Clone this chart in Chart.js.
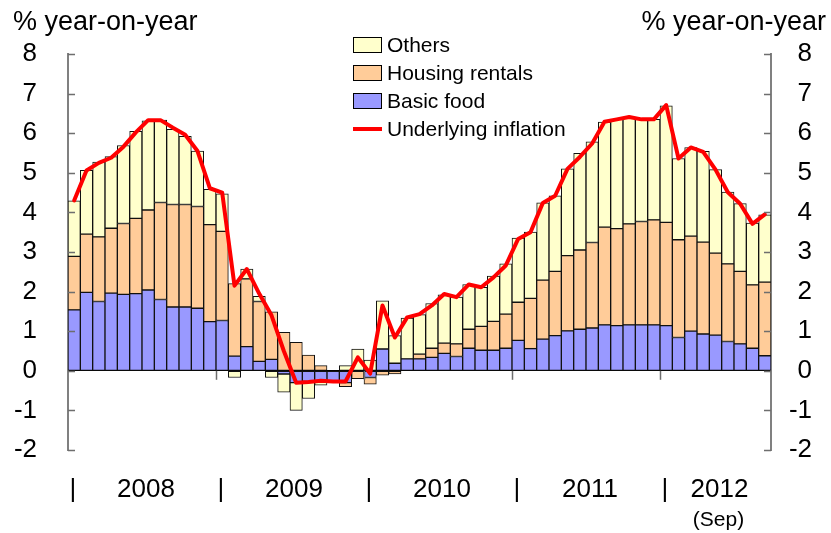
<!DOCTYPE html>
<html>
<head>
<meta charset="utf-8">
<script src="https://cdn.jsdelivr.net/npm/chart.js@4/dist/chart.umd.min.js"></script>
<style>
  html, body { margin: 0; padding: 0; background: #fff; }
  canvas { display: block; }
</style>
</head>
<body>
<canvas id="c" width="831" height="533"></canvas>
<script>
// ---- Data (monthly, Jan 2008 – Sep 2012) ----
const months = [
  '2008-01','2008-02','2008-03','2008-04','2008-05','2008-06','2008-07','2008-08','2008-09','2008-10','2008-11','2008-12',
  '2009-01','2009-02','2009-03','2009-04','2009-05','2009-06','2009-07','2009-08','2009-09','2009-10','2009-11','2009-12',
  '2010-01','2010-02','2010-03','2010-04','2010-05','2010-06','2010-07','2010-08','2010-09','2010-10','2010-11','2010-12',
  '2011-01','2011-02','2011-03','2011-04','2011-05','2011-06','2011-07','2011-08','2011-09','2011-10','2011-11','2011-12',
  '2012-01','2012-02','2012-03','2012-04','2012-05','2012-06','2012-07','2012-08','2012-09'
];
const basicFood = [
  1.54,1.98,1.75,1.96,1.93,1.95,2.04,1.80,1.61,1.61,1.58,1.24,
  1.27,0.37,0.61,0.24,0.29,-0.08,-0.30,-0.27,-0.25,-0.25,-0.30,0.00,
  -0.17,0.55,0.19,0.30,0.30,0.34,0.44,0.36,0.57,0.52,0.52,0.57,
  0.77,0.56,0.80,0.89,1.01,1.05,1.08,1.16,1.14,1.16,1.16,1.16,
  1.14,0.84,1.00,0.93,0.90,0.74,0.68,0.57,0.38
];
const housingRentals = [
  1.35,1.47,1.63,1.64,1.79,1.90,2.02,2.45,2.59,2.59,2.57,2.45,
  2.25,1.83,1.71,1.51,1.20,0.97,0.72,0.40,0.13,0.00,-0.10,-0.20,
  -0.17,-0.11,-0.08,0.00,0.12,0.23,0.26,0.32,0.48,0.60,0.73,0.86,
  0.96,1.27,1.49,1.62,1.90,2.00,2.16,2.47,2.45,2.55,2.61,2.65,
  2.61,2.47,2.40,2.32,2.07,1.96,1.83,1.60,1.86
];
const others = [
  1.40,1.61,1.89,1.81,1.97,2.20,2.25,2.08,1.90,1.72,1.40,0.89,
  0.95,-0.17,0.25,0.13,-0.17,-0.46,-0.70,-0.43,-0.11,-0.03,0.13,0.55,
  0.27,1.22,0.70,1.03,1.00,1.13,1.22,1.18,1.13,0.99,1.14,1.27,
  1.62,1.67,1.95,1.91,2.19,2.44,2.54,2.65,2.76,2.70,2.58,2.54,
  2.94,2.05,2.24,2.29,2.11,1.81,1.71,1.56,1.70
];
const underlyingInflation = [
  4.30,5.06,5.25,5.38,5.66,6.02,6.33,6.33,6.14,5.96,5.55,4.61,
  4.50,2.15,2.57,1.95,1.40,0.50,-0.30,-0.28,-0.25,-0.27,-0.27,0.34,
  -0.07,1.65,0.84,1.35,1.43,1.65,1.94,1.86,2.18,2.11,2.36,2.66,
  3.33,3.50,4.24,4.42,5.10,5.40,5.74,6.29,6.35,6.41,6.35,6.35,
  6.71,5.36,5.64,5.53,5.08,4.51,4.22,3.71,3.95
];
const yearLabels = ['2008','2009','2010','2011','2012'];
const lastYearNote = '(Sep)';
const axisTitle = '% year-on-year';
const yMin = -2, yMax = 8, yStep = 1;

const FONT = '"Liberation Sans", Arial, Helvetica, sans-serif';

const decor = {
  id: 'decor',
  beforeDraw(chart) {
    const ctx = chart.ctx;
    ctx.save();
    ctx.fillStyle = '#fff';
    ctx.fillRect(0, 0, chart.width, chart.height);
    ctx.restore();
  },
  afterDatasetsDraw(chart) {
    const ctx = chart.ctx;
    const ca = chart.chartArea;
    const y = chart.scales.y, x = chart.scales.x;
    ctx.save();
    ctx.strokeStyle = '#6e6e6e';
    ctx.lineWidth = 1.5;
    // inward tick marks on both value axes
    y.ticks.forEach(t => {
      const py = Math.round(y.getPixelForValue(t.value)) + 0.5;
      ctx.beginPath();
      ctx.moveTo(ca.left, py); ctx.lineTo(ca.left + 7, py);
      ctx.moveTo(ca.right, py); ctx.lineTo(ca.right - 7, py);
      ctx.stroke();
    });
    // year boundary ticks below the zero line
    const half = (x.getPixelForValue(1) - x.getPixelForValue(0)) / 2;
    const y0 = y.getPixelForValue(0);
    for (let k = 1; k < yearLabels.length; k++) {
      const px = Math.round(x.getPixelForValue(k * 12) - half) + 0.5;
      ctx.beginPath();
      ctx.moveTo(px, y0); ctx.lineTo(px, y0 + 9);
      ctx.stroke();
    }
    ctx.restore();
  },
  afterDraw(chart) {
    const ctx = chart.ctx;
    const x = chart.scales.x;
    ctx.save();
    ctx.fillStyle = '#000';
    // axis titles
    ctx.font = '27px ' + FONT;
    ctx.textBaseline = 'alphabetic';
    ctx.textAlign = 'left';
    ctx.fillText(axisTitle, 13, 30);
    ctx.textAlign = 'right';
    ctx.fillText(axisTitle, 826, 30);

    // year labels with separators
    const half = (x.getPixelForValue(1) - x.getPixelForValue(0)) / 2;
    const n = months.length;
    ctx.font = '26px ' + FONT;
    ctx.textAlign = 'center';
    for (let k = 0; k < yearLabels.length; k++) {
      const start = x.getPixelForValue(k * 12) - half;
      const endIdx = Math.min(k * 12 + 11, n - 1);
      const end = x.getPixelForValue(endIdx) + half;
      ctx.fillText('|', start + 5, 497);
      ctx.fillText(yearLabels[k], (start + end) / 2 + 4, 497);
      if (k === yearLabels.length - 1) {
        ctx.font = '21px ' + FONT;
        ctx.fillText(lastYearNote, (start + end) / 2 + 3, 526);
        ctx.font = '26px ' + FONT;
      }
    }

    // legend: Others, Housing rentals, Basic food, Underlying inflation
    const order = [2, 1, 0, 3];
    const lx = 353, bw = 29, bh = 16;
    let ry = 45;
    ctx.font = '21px ' + FONT;
    ctx.textAlign = 'left';
    ctx.textBaseline = 'middle';
    order.forEach(i => {
      const ds = chart.data.datasets[i];
      if (ds.type === 'line') {
        ctx.strokeStyle = ds.borderColor;
        ctx.lineWidth = 4;
        ctx.beginPath();
        ctx.moveTo(lx, ry); ctx.lineTo(lx + bw, ry);
        ctx.stroke();
      } else {
        ctx.fillStyle = ds.backgroundColor;
        ctx.fillRect(lx, ry - bh / 2, bw, bh);
        ctx.strokeStyle = '#000';
        ctx.lineWidth = 1;
        ctx.strokeRect(lx + 0.5, ry - bh / 2 + 0.5, bw - 1, bh - 1);
      }
      ctx.fillStyle = '#000';
      ctx.fillText(ds.label, lx + bw + 5, ry + 1);
      ry += 28;
    });
    ctx.restore();
  }
};

const barCommon = {
  type: 'bar',
  borderColor: '#111',
  borderWidth: 1,
  borderSkipped: false,
  barPercentage: 1.0,
  categoryPercentage: 1.0,
  stack: 'cpi',
  order: 1
};

new Chart(document.getElementById('c'), {
  data: {
    labels: months,
    datasets: [
      Object.assign({}, barCommon, { label: 'Basic food', data: basicFood, backgroundColor: '#9999FF' }),
      Object.assign({}, barCommon, { label: 'Housing rentals', data: housingRentals, backgroundColor: '#FFCC99' }),
      Object.assign({}, barCommon, { label: 'Others', data: others, backgroundColor: '#FFFFCC' }),
      {
        type: 'line', label: 'Underlying inflation', data: underlyingInflation,
        borderColor: '#FF0000', borderWidth: 4, pointRadius: 0, tension: 0,
        fill: false, stack: 'line', order: 0, borderJoinStyle: 'round', borderCapStyle: 'round'
      }
    ]
  },
  options: {
    responsive: false,
    animation: false,
    layout: { padding: { top: 54, bottom: 83, left: 0, right: 19 } },
    plugins: { legend: { display: false }, tooltip: { enabled: false }, title: { display: false } },
    scales: {
      x: { display: false, stacked: true, offset: true },
      y: {
        position: 'left', stacked: true, min: yMin, max: yMax,
        ticks: { stepSize: yStep, color: '#000', font: { size: 26, family: FONT }, padding: 31 },
        grid: {
          drawTicks: false, lineWidth: 1,
          color: c => (c.tick && c.tick.value === 0) ? '#000' : 'rgba(0,0,0,0)'
        },
        border: { display: true, color: '#808080', width: 2 },
        afterFit: s => { s.width = 68; }
      },
      y2: {
        position: 'right', min: yMin, max: yMax,
        ticks: { stepSize: yStep, color: '#000', font: { size: 26, family: FONT }, crossAlign: 'far' },
        grid: { display: false, drawTicks: false },
        border: { display: true, color: '#808080', width: 2 },
        afterFit: s => { s.width = 41; }
      }
    }
  },
  plugins: [decor]
});
</script>
</body>
</html>
